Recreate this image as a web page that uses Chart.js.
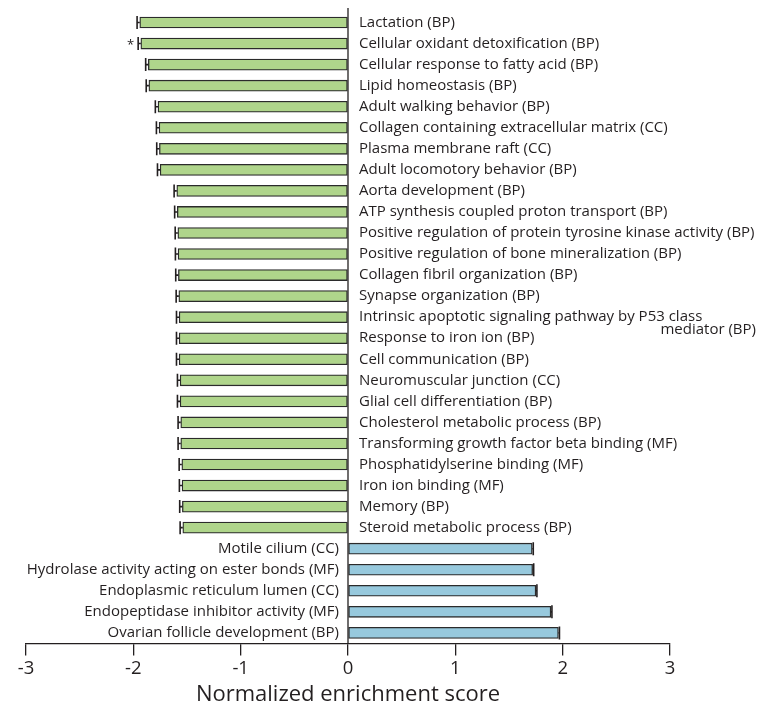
<!DOCTYPE html>
<html>
<head>
<meta charset="utf-8">
<script src="https://cdn.jsdelivr.net/npm/chart.js@4/dist/chart.umd.min.js"></script>
<style>
  html, body { margin: 0; padding: 0; background: #ffffff; overflow: hidden; }
  #wrap { position: relative; width: 758px; height: 704px; }
</style>
</head>
<body>
<div id="wrap"><canvas id="chart"></canvas></div>
<script>
// Gene-set terms, top to bottom
const terms = [
  "Lactation (BP)",
  "Cellular oxidant detoxification (BP)",
  "Cellular response to fatty acid (BP)",
  "Lipid homeostasis (BP)",
  "Adult walking behavior (BP)",
  "Collagen containing extracellular matrix (CC)",
  "Plasma membrane raft (CC)",
  "Adult locomotory behavior (BP)",
  "Aorta development (BP)",
  "ATP synthesis coupled proton transport (BP)",
  "Positive regulation of protein tyrosine kinase activity (BP)",
  "Positive regulation of bone mineralization (BP)",
  "Collagen fibril organization (BP)",
  "Synapse organization (BP)",
  ["Intrinsic apoptotic signaling pathway by P53 class", "mediator (BP)"],
  "Response to iron ion (BP)",
  "Cell communication (BP)",
  "Neuromuscular junction (CC)",
  "Glial cell differentiation (BP)",
  "Cholesterol metabolic process (BP)",
  "Transforming growth factor beta binding (MF)",
  "Phosphatidylserine binding (MF)",
  "Iron ion binding (MF)",
  "Memory (BP)",
  "Steroid metabolic process (BP)",
  "Motile cilium (CC)",
  "Hydrolase activity acting on ester bonds (MF)",
  "Endoplasmic reticulum lumen (CC)",
  "Endopeptidase inhibitor activity (MF)",
  "Ovarian follicle development (BP)"
];

// Normalized enrichment scores
const nes = [
  -1.94, -1.93, -1.86, -1.855, -1.77, -1.76, -1.757, -1.75,
  -1.595, -1.59, -1.585, -1.583, -1.58, -1.576, -1.573, -1.573,
  -1.573, -1.564, -1.564, -1.558, -1.558, -1.548, -1.546, -1.543, -1.539,
  1.716, 1.72, 1.75, 1.89, 1.96
];

// Error whisker lengths
const errs = [
  0.025, 0.025, 0.025, 0.025, 0.025, 0.025, 0.025, 0.025,
  0.025, 0.025, 0.025, 0.025, 0.025, 0.025, 0.025, 0.025,
  0.025, 0.025, 0.025, 0.025, 0.025, 0.025, 0.025, 0.025, 0.025,
  0.01, 0.01, 0.01, 0.01, 0.01
];

// Significance marks
const marks = ["", "*", "", "", "", "", "", "", "", "", "", "", "", "", "", "", "", "", "", "", "", "", "", "", "", "", "", "", "", ""];

const xTicks = [-3, -2, -1, 0, 1, 2, 3];

const INK = '#231f20';
const GREEN = '#afd58b';
const BLUE = '#97c9dd';
const LABEL_FONT = '15px "Open Sans"';

const decorations = {
  id: 'decorations',
  afterDatasetsDraw(chart) {
    const { ctx, chartArea } = chart;
    const xs = chart.scales.x, ys = chart.scales.y;
    const meta = chart.getDatasetMeta(0);
    const x0 = xs.getPixelForValue(0);

    ctx.save();
    // zero line
    ctx.strokeStyle = INK;
    ctx.lineWidth = 1.3;
    ctx.beginPath();
    ctx.moveTo(x0, chartArea.top - 4);
    ctx.lineTo(x0, chartArea.bottom);
    ctx.stroke();

    // error whiskers
    ctx.lineWidth = 1.6;
    nes.forEach((v, i) => {
      const bar = meta.data[i];
      const y = bar.y;
      const h = bar.height;
      const sign = v < 0 ? -1 : 1;
      const xe = xs.getPixelForValue(v + sign * errs[i]);
      const xv = xs.getPixelForValue(v);
      ctx.beginPath();
      ctx.moveTo(xv, y);
      ctx.lineTo(xe, y);
      ctx.moveTo(xe, y - h / 2 - 1);
      ctx.lineTo(xe, y + h / 2 + 1);
      ctx.stroke();
    });

    // term labels
    ctx.fillStyle = INK;
    ctx.font = LABEL_FONT;
    ctx.textBaseline = 'middle';
    terms.forEach((t, i) => {
      const y = ys.getPixelForValue(i);
      if (nes[i] < 0) {
        ctx.textAlign = 'left';
        if (Array.isArray(t)) {
          ctx.fillText(t[0], x0 + 11, y);
          ctx.textAlign = 'right';
          ctx.fillText(t[1], chart.width - 2, y + 13);
        } else {
          ctx.fillText(t, x0 + 11, y);
        }
      } else {
        ctx.textAlign = 'right';
        ctx.fillText(Array.isArray(t) ? t.join(' ') : t, x0 - 9, y);
      }
    });

    // significance marks
    ctx.font = '13px "Open Sans"';
    ctx.textAlign = 'right';
    marks.forEach((m, i) => {
      if (!m) return;
      const sign = nes[i] < 0 ? -1 : 1;
      const xe = xs.getPixelForValue(nes[i] + sign * errs[i]);
      ctx.fillText(m, xe - 4, ys.getPixelForValue(i) + 2);
    });
    ctx.restore();
  }
};

new Chart(document.getElementById('chart'), {
  type: 'bar',
  data: {
    labels: terms,
    datasets: [{
      data: nes,
      backgroundColor: nes.map(v => v < 0 ? GREEN : BLUE),
      borderColor: '#2b2b2b',
      borderWidth: 1.3,
      borderSkipped: false,
      barThickness: 11
    }]
  },
  options: {
    indexAxis: 'y',
    responsive: true,
    maintainAspectRatio: false,
    animation: false,
    layout: { padding: { left: 26, right: 88, top: 12, bottom: -4 } },
    plugins: { legend: { display: false }, tooltip: { enabled: false } },
    scales: {
      y: { display: false, offset: true },
      x: {
        min: -3, max: 3,
        afterBuildTicks(axis) { axis.ticks = xTicks.map(v => ({ value: v })); },
        grid: { drawOnChartArea: false, drawTicks: true, tickLength: 12, color: INK, lineWidth: 1.3 },
        border: { display: true, color: INK, width: 1.3 },
        ticks: { color: INK, font: { family: 'Open Sans', size: 18.5 }, padding: 2, maxRotation: 0 },
        title: { display: true, text: 'Normalized enrichment score', color: INK, font: { family: 'Open Sans', size: 22 }, padding: { top: 0, bottom: 0 } }
      }
    }
  },
  plugins: [decorations]
});
</script>
</body>
</html>
